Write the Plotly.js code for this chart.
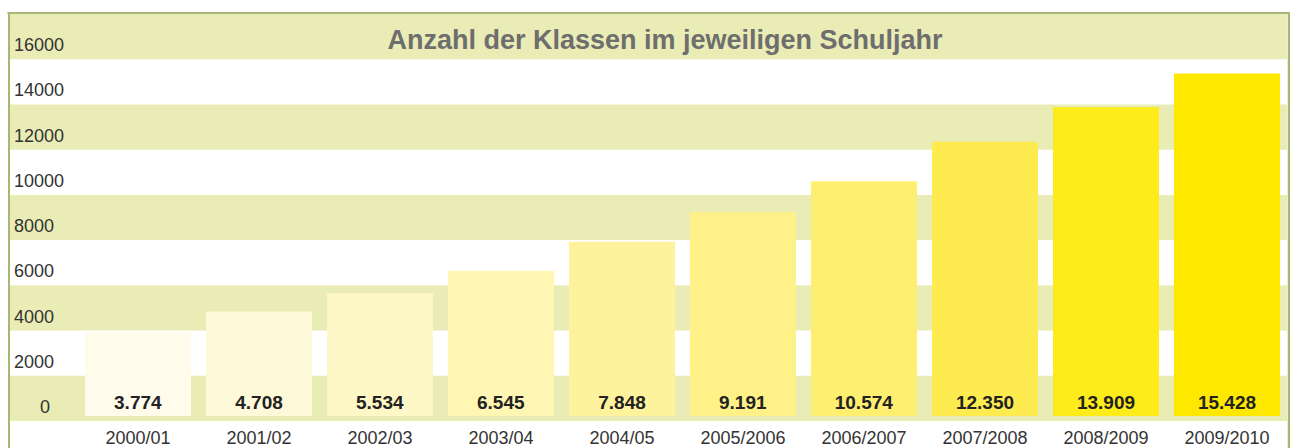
<!DOCTYPE html>
<html><head><meta charset="utf-8">
<script src="https://cdn.plot.ly/plotly-3.0.1.min.js"></script>
<style>html,body{margin:0;padding:0;background:#fff}</style>
</head><body><div id="chart" style="width:1290px;height:448px"></div>
<script>
// ---- data ----
const years = ['2000/01','2001/02','2002/03','2003/04','2004/05','2005/2006','2006/2007','2007/2008','2008/2009','2009/2010'];
const klassen = [3774,4708,5534,6545,7848,9191,10574,12350,13909,15428];
const barColors = ['#FFFCEC','#FEF9D8','#FEF8C6','#FEF6B2','#FEF39C','#FEF188','#FEEF70','#FDEB50','#FDEB1A','#FFE800'];
const tickValues = [0,2000,4000,6000,8000,10000,12000,14000,16000];
const tickLabels = ['0','2000','4000','6000','8000','10000','12000','14000','16000'];
const titleText = 'Anzahl der Klassen im jeweiligen Schuljahr';

// ---- styling ----
const bandColor = '#E9ECB5';
const borderColor = '#A8B774';
const font = 'Liberation Sans, Arial, sans-serif';

const shapes = [];
tickValues.forEach((v, i) => {
  if (i % 2 === 0) {
    shapes.push({type:'rect', xref:'paper', yref:'y2', x0:0, x1:1, y0:v-620, y1:v+1380,
      fillcolor: bandColor, line:{width:0}, layer:'below'});
  }
});
// frame lines
shapes.push({type:'line', xref:'paper', yref:'paper', xsizemode:'pixel', xanchor:0, x0:-1, x1:-1, y0:-0.1, y1:1.0, line:{color:borderColor, width:2}});
shapes.push({type:'line', xref:'paper', yref:'paper', xsizemode:'pixel', xanchor:1, x0:2, x1:2, y0:-0.1, y1:1.0, line:{color:borderColor, width:2.5}});
shapes.push({type:'line', xref:'paper', yref:'paper', ysizemode:'pixel', yanchor:1, y0:1, y1:1, x0:-0.002, x1:1.003, line:{color:borderColor, width:2}});

const annotations = tickValues.map((v, i) => ({
  xref:'paper', yref:'y2', x: v === 0 ? 0.0274 : 0.0018, y: v,
  xanchor: v === 0 ? 'center' : 'left', yanchor:'middle',
  text: tickLabels[i], showarrow:false,
  font:{family:font, size:18, color:'#333333'}
}));

const traces = [
  {type:'bar', x: years, y: klassen, width: 0.876,
   marker:{color: barColors, line:{width:0}},
   texttemplate:'<b>%{y:,}</b>', textposition:'inside', insidetextanchor:'start',
   textangle:0, constraintext:'none',
   insidetextfont:{family:font, size:19, color:'#222222'},
   hoverinfo:'skip', showlegend:false},
  {type:'scatter', x:[], y:[], yaxis:'y2', hoverinfo:'skip', showlegend:false}
];

const layout = {
  width:1290, height:448,
  margin:{l:10, r:3, t:14, b:27, pad:0},
  paper_bgcolor:'#ffffff', plot_bgcolor:'rgba(0,0,0,0)',
  separators:',.',
  showlegend:false,
  title:{text: titleText, x: 0.5155, xref:'container', xanchor:'center',
         y: 1 - 40/448, yref:'container', yanchor:'middle',
         font:{family:font, size:27, color:'#6E6E6E', weight:'bold'}},
  xaxis:{type:'category', range:[-1.058, 9.496], showgrid:false, zeroline:false,
         showline:false, ticks:'', automargin:false, ticklabelstandoff:4,
         tickfont:{family:font, size:18, color:'#333333'}},
  yaxis:{range:[-225, 18108], showgrid:false, zeroline:false, showline:false,
         showticklabels:false, ticks:'', automargin:false},
  yaxis2:{overlaying:'y', side:'left', range:[-620, 17380], showgrid:false,
          zeroline:false, showline:false, showticklabels:false, ticks:'', automargin:false},
  shapes: shapes,
  annotations: annotations,
  bargap: 0.124
};

Plotly.newPlot('chart', traces, layout, {staticPlot:true, displayModeBar:false});
</script>
</body></html>
